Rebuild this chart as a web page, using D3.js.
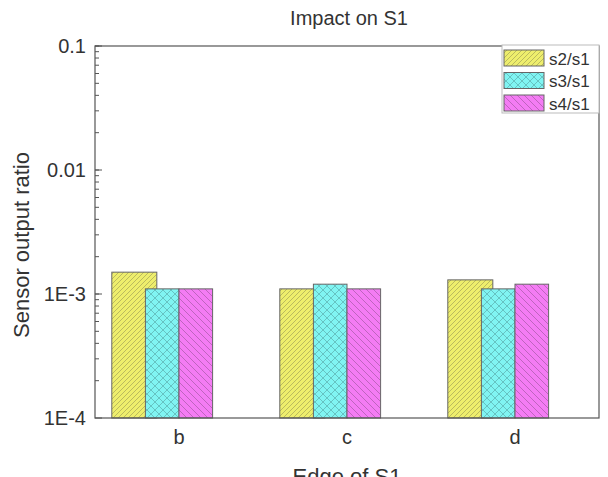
<!DOCTYPE html>
<html>
<head>
<meta charset="utf-8">
<script src="https://cdn.jsdelivr.net/npm/d3@7"></script>
<style>
body { margin: 0; background: #fff; }
text { font-family: "Liberation Sans", Arial, sans-serif; fill: #333; }
</style>
</head>
<body>
<div id="chart"></div>
<script>
let edges = ["b", "c", "d"];
let seriesNames = ["s2/s1", "s3/s1", "s4/s1"];
let s2 = [1.5e-3, 1.1e-3, 1.3e-3];
let s3 = [1.1e-3, 1.2e-3, 1.1e-3];
let s4 = [1.1e-3, 1.1e-3, 1.2e-3];
let yTicks = [1e-4, 1e-3, 1e-2, 1e-1];
let yTickLabels = ["1E-4", "1E-3", "0.01", "0.1"];

let width = 608, height = 477;
let padding = {top: 46, right: 9, bottom: 59, left: 95};
let plot_w = width - padding.left - padding.right;
let plot_h = height - padding.top - padding.bottom;

let fills = ["#eeee6c", "#80f4f2", "#f47cf4"];
let patterns = ["hatchFwd", "hatchCross", "hatchBack"];

let svg = d3.select("#chart").append("svg")
	.attr("width", width)
	.attr("height", height);

// hatch patterns
let defs = svg.append("defs");
let p1 = defs.append("pattern").attr("id", "hatchFwd")
	.attr("patternUnits", "userSpaceOnUse").attr("width", 5).attr("height", 5);
p1.append("rect").attr("width", 5).attr("height", 5).attr("fill", fills[0]);
p1.append("path").attr("d", "M-1,1 l2,-2 M0,5 l5,-5 M4,6 l2,-2")
	.attr("stroke", "#a4a458").attr("stroke-width", 0.7);

let p2 = defs.append("pattern").attr("id", "hatchCross")
	.attr("patternUnits", "userSpaceOnUse").attr("width", 8).attr("height", 8);
p2.append("rect").attr("width", 8).attr("height", 8).attr("fill", fills[1]);
p2.append("path").attr("d", "M0,0 L8,8 M8,0 L0,8")
	.attr("stroke", "#5aaeae").attr("stroke-width", 0.7);

let p3 = defs.append("pattern").attr("id", "hatchBack")
	.attr("patternUnits", "userSpaceOnUse").attr("width", 7).attr("height", 7);
p3.append("rect").attr("width", 7).attr("height", 7).attr("fill", fills[2]);
p3.append("path").attr("d", "M-1,6 l2,2 M0,0 l7,7 M6,-1 l2,2")
	.attr("stroke", "#a85aa8").attr("stroke-width", 0.7);

let g = svg.append("g")
	.attr("transform", "translate(" + padding.left + "," + padding.top + ")");

let xScale = d3.scaleBand().domain(edges).range([0, plot_w]).padding(0);
let yScale = d3.scaleLog().domain([1e-4, 1e-1]).range([plot_h, 0]);

let barW = xScale.bandwidth() * 0.2;

// bars (yellow is drawn wider, behind the others)
let seriesData = [s2, s3, s4];
let barGeom = [
	{off: -2, w: 1.34},
	{off: -1, w: 1},
	{off: 0, w: 1}
];
seriesData.forEach(function (vals, si) {
	g.selectAll(".bar" + si)
		.data(vals)
		.enter()
		.append("rect")
		.attr("class", "bar" + si)
		.attr("x", (d, i) => xScale(edges[i]) + xScale.bandwidth() / 2 + barGeom[si].off * barW)
		.attr("y", d => yScale(d))
		.attr("width", barW * barGeom[si].w)
		.attr("height", d => plot_h - yScale(d))
		.attr("fill", "url(#" + patterns[si] + ")")
		.attr("stroke", "#666")
		.attr("stroke-width", 1);
});

// frame
g.append("rect")
	.attr("width", plot_w).attr("height", plot_h)
	.attr("fill", "none").attr("stroke", "#555").attr("stroke-width", 1.2);

// y axis with inner ticks
let yAxis = d3.axisLeft(yScale)
	.tickValues(yTicks)
	.tickSize(0)
	.tickPadding(9)
	.tickFormat((d, i) => yTickLabels[i]);
let yg = g.append("g").call(yAxis);
yg.select(".domain").remove();
yg.selectAll("text").style("font-size", "20px").attr("fill", "#333");

let minor = [];
for (let e = -4; e < -1; e++) {
	for (let k = 1; k <= 10; k++) minor.push({v: k * Math.pow(10, e), major: k === 1});
}
minor.push({v: 0.1, major: true});
g.selectAll(".ytick")
	.data(minor)
	.enter()
	.append("line")
	.attr("x1", 0)
	.attr("x2", d => d.major ? 7 : 4)
	.attr("y1", d => yScale(d.v))
	.attr("y2", d => yScale(d.v))
	.attr("stroke", "#555");

// x axis labels
let xAxis = d3.axisBottom(xScale).tickSize(0).tickPadding(12);
let xg = g.append("g").attr("transform", "translate(0," + plot_h + ")").call(xAxis);
xg.select(".domain").remove();
xg.selectAll("text").style("font-size", "20px").attr("fill", "#333");

// titles
svg.append("text")
	.attr("x", padding.left + plot_w / 2 + 2)
	.attr("y", 25)
	.style("text-anchor", "middle")
	.style("font-size", "20px")
	.text("Impact on S1");

svg.append("text")
	.attr("transform", "translate(29,245) rotate(-90)")
	.style("text-anchor", "middle")
	.style("font-size", "22px")
	.text("Sensor output ratio");

svg.append("text")
	.attr("x", padding.left + plot_w / 2)
	.attr("y", 484)
	.style("text-anchor", "middle")
	.style("font-size", "22px")
	.text("Edge of S1");

// legend
let lg = svg.append("g").attr("transform", "translate(502,45)");
lg.append("rect")
	.attr("width", 97).attr("height", 68)
	.attr("fill", "#fff").attr("stroke", "#bbb");
seriesNames.forEach(function (name, i) {
	lg.append("rect")
		.attr("x", 2).attr("y", 5 + i * 22.5)
		.attr("width", 40).attr("height", 16)
		.attr("fill", "url(#" + patterns[i] + ")")
		.attr("stroke", "#666");
	lg.append("text")
		.attr("x", 47).attr("y", 19.5 + i * 22.5)
		.style("font-size", "17px")
		.text(name);
});
</script>
</body>
</html>
